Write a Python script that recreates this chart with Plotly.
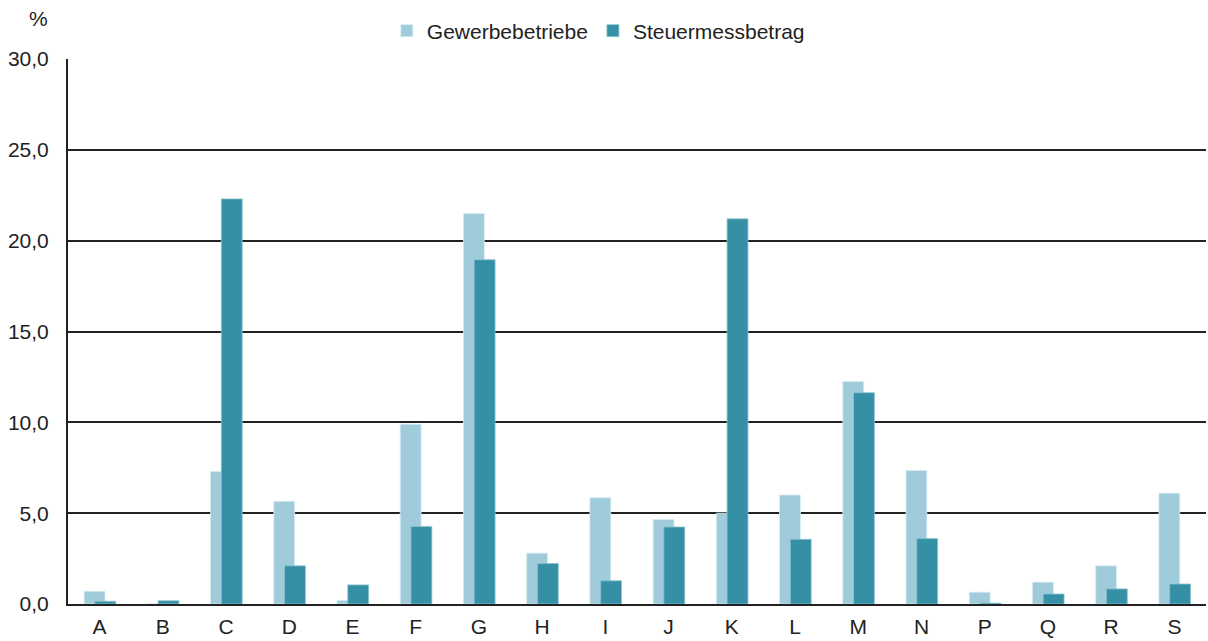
import plotly.graph_objects as go

categories = ["A", "B", "C", "D", "E", "F", "G", "H", "I", "J", "K", "L", "M", "N", "P", "Q", "R", "S"]
gewerbebetriebe = [0.7, 0.0, 7.3, 5.65, 0.2, 9.9, 21.5, 2.8, 5.85, 4.65, 5.0, 6.0, 12.25, 7.35, 0.65, 1.2, 2.1, 6.1]
steuermessbetrag = [0.15, 0.18, 22.3, 2.1, 1.05, 4.27, 18.95, 2.23, 1.28, 4.24, 21.2, 3.56, 11.63, 3.6, 0.05, 0.55, 0.83, 1.1]
y_ticks = [0, 5, 10, 15, 20, 25, 30]

LIGHT = "#9FCBDA"
DARK = "#3590A6"
TEXT = "#222222"
FONT = "Liberation Sans, Arial, sans-serif"
FS = 21

fig = go.Figure()
fig.add_trace(go.Bar(
    x=categories, y=gewerbebetriebe, name="Gewerbebetriebe",
    marker=dict(color=LIGHT, line=dict(color="#D6ECF2", width=0.8)),
    width=0.33, offset=-0.245,
))
fig.add_trace(go.Bar(
    x=categories, y=steuermessbetrag, name="Steuermessbetrag",
    marker=dict(color=DARK, line=dict(color="#8CC3D1", width=0.8)),
    width=0.33, offset=-0.075,
))

fig.update_layout(
    width=1208, height=641,
    barmode="overlay",
    separators=",.",
    paper_bgcolor="white", plot_bgcolor="white",
    margin=dict(l=68, r=2, t=59, b=37, autoexpand=False),
    font=dict(family=FONT, size=FS, color=TEXT),
    showlegend=True,
    legend=dict(orientation="h", x=0.466, xanchor="center",
                yref="container", y=1 - 31 / 641, yanchor="middle",
                font=dict(size=FS, color=TEXT), itemwidth=30,
                traceorder="normal", bgcolor="rgba(0,0,0,0)"),
)
fig.add_annotation(text="%", xref="paper", yref="paper", x=-0.026, y=1.075,
                   xanchor="center", yanchor="middle", showarrow=False,
                   font=dict(size=FS, color=TEXT))

fig.update_xaxes(
    type="category", range=[-0.5, 17.5], automargin=False,
    showline=True, linecolor="#222222", linewidth=2.2,
    showgrid=False, ticks="", tickfont=dict(size=FS, color=TEXT),
    ticklabelstandoff=3,
)
fig.update_yaxes(
    range=[0, 30], tickvals=y_ticks, tickformat=".1f", automargin=False,
    showline=True, linecolor="#222222", linewidth=2,
    showgrid=True, gridcolor="#222222", gridwidth=1.5,
    zeroline=False, ticks="", tickfont=dict(size=FS, color=TEXT),
    ticklabelstandoff=13,
)

fig.write_html(
    "out.html",
    config={"displayModeBar": False},
    post_script="document.body.style.margin='0';document.body.style.overflow='hidden';",
)
